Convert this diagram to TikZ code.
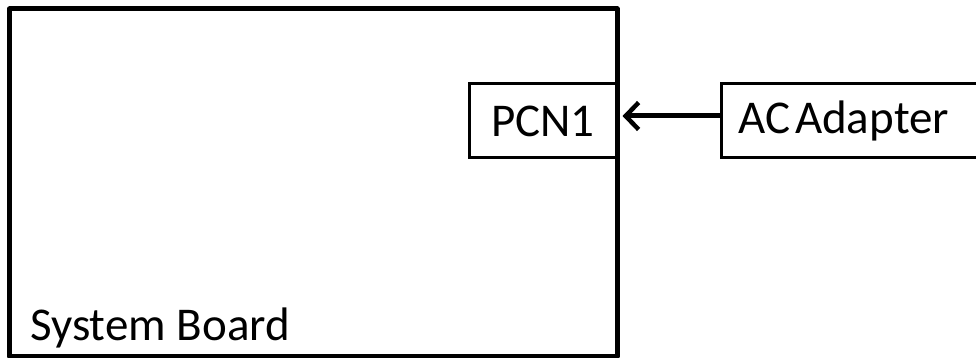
\documentclass[tikz,border=0pt]{standalone}
\usepackage{fontspec}
\setmainfont{Carlito}
\usetikzlibrary{positioning,arrows.meta}

\begin{document}
\begin{tikzpicture}[x=1pt,y=-1pt,
	part/.style={draw, line width=3pt, minimum width=148pt, minimum height=74pt, inner sep=0pt},
	plug/.style={line width=5pt, -{Straight Barb[length=13pt,width=27pt,line width=4.5pt]}}]

	% ---- frame

	\useasboundingbox (0,0) rectangle (976,358);
	\clip (0,0) rectangle (976,358);

	\fontsize{47}{56}\selectfont

	% ---- system board

	\draw[line width=5pt, line join=round] (9.5,9) rectangle (617,356);
	\node[anchor=base west, inner sep=0pt] (board) at (30,340) {System Board};

	% ---- connectors

	\node[part] (pcn) at (543,121) {PCN1};
	\node[part, minimum width=270pt, anchor=west, text width=236pt, align=left] (ac) at (720,121) {AC\hspace{0.1em}Adapter};

	% ---- cable

	\draw[plug] ([yshift=5pt]ac.west) -- ([yshift=5pt,xshift=4pt]pcn.east);

\end{tikzpicture}
\end{document}
